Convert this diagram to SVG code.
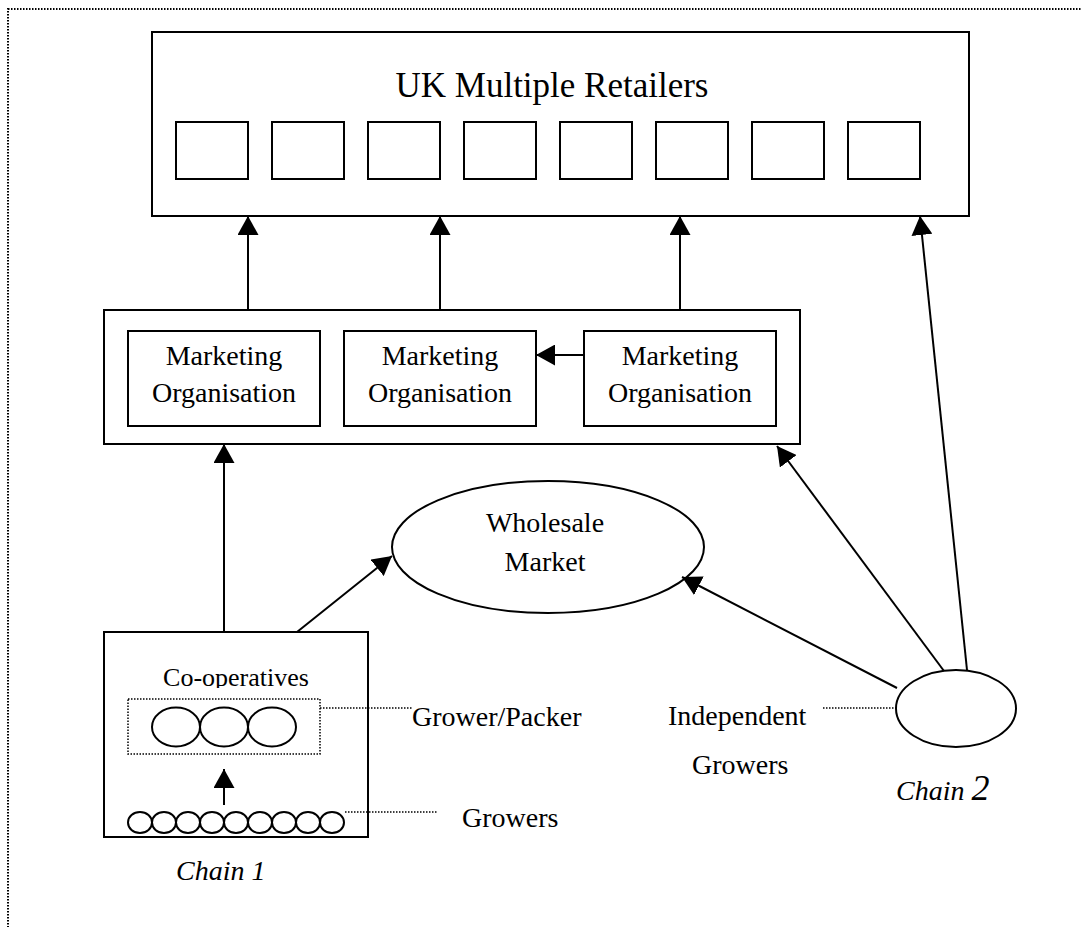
<svg xmlns="http://www.w3.org/2000/svg" width="1081" height="927" viewBox="0 0 1081 927">
  <style>
    .box { fill: #fff; stroke: #000; stroke-width: 2; }
    .shape { fill: #fff; stroke: #000; stroke-width: 2; }
    .dotted { fill: none; stroke: #000; stroke-width: 1.5; stroke-dasharray: 1.5 1.5; }
    .frame { fill: none; stroke: #000; stroke-width: 2; stroke-dasharray: 1.5 1.5; }
    .link { fill: none; stroke: #000; stroke-width: 2; marker-end: url(#arrow); }
    .label { font-family: "Liberation Serif", "Times New Roman", serif; font-size: 28px; fill: #000; }
    .mid { text-anchor: middle; }
    .ital { font-style: italic; }
  </style>
  <defs>
    <marker id="arrow" markerUnits="userSpaceOnUse" viewBox="0 0 19 21" markerWidth="19" markerHeight="21" refX="19" refY="10.5" orient="auto">
      <path d="M0,0 L19,10.5 L0,21 z" fill="#000"/>
    </marker>
    <clipPath id="coopClip">
      <rect x="104" y="632" width="264" height="56"/>
    </clipPath>
  </defs>

  <rect width="1081" height="927" fill="#fff"/>

  <!-- page frame (top and left edges visible) -->
  <g id="frame">
    <line class="frame" x1="8" y1="9" x2="1081" y2="9"/>
    <line class="frame" x1="8" y1="8" x2="8" y2="927"/>
  </g>

  <!-- retailers -->
  <g id="uk-retailers">
    <rect class="box" x="152" y="32" width="817" height="184"/>
    <text class="label mid" x="552" y="97" style="font-size:35px">UK Multiple Retailers</text>
    <rect class="box" x="176" y="122" width="72" height="57"/>
    <rect class="box" x="272" y="122" width="72" height="57"/>
    <rect class="box" x="368" y="122" width="72" height="57"/>
    <rect class="box" x="464" y="122" width="72" height="57"/>
    <rect class="box" x="560" y="122" width="72" height="57"/>
    <rect class="box" x="656" y="122" width="72" height="57"/>
    <rect class="box" x="752" y="122" width="72" height="57"/>
    <rect class="box" x="848" y="122" width="72" height="57"/>
  </g>

  <!-- marketing layer -->
  <g id="marketing">
    <rect class="box" x="104" y="310" width="696" height="134"/>
  </g>
  <g id="marketing-org-1">
    <rect class="box" x="128" y="331" width="192" height="95"/>
    <text class="label mid" x="224" y="365">Marketing</text>
    <text class="label mid" x="224" y="402">Organisation</text>
  </g>
  <g id="marketing-org-2">
    <rect class="box" x="344" y="331" width="192" height="95"/>
    <text class="label mid" x="440" y="365">Marketing</text>
    <text class="label mid" x="440" y="402">Organisation</text>
  </g>
  <g id="marketing-org-3">
    <rect class="box" x="584" y="331" width="192" height="95"/>
    <text class="label mid" x="680" y="365">Marketing</text>
    <text class="label mid" x="680" y="402">Organisation</text>
  </g>

  <!-- wholesale market -->
  <g id="wholesale-market">
    <ellipse class="shape" cx="548" cy="547" rx="156" ry="66"/>
    <text class="label mid" x="545" y="532">Wholesale</text>
    <text class="label mid" x="545" y="571">Market</text>
  </g>

  <!-- chain 1: co-operatives -->
  <g id="cooperatives">
    <rect class="box" x="104" y="632" width="264" height="205"/>
    <text class="label mid" x="236" y="686" clip-path="url(#coopClip)" style="font-size:26px">Co-operatives</text>
    <rect class="dotted" x="128" y="699" width="192" height="55"/>
    <ellipse class="shape" cx="176" cy="727" rx="24" ry="19.5"/>
    <ellipse class="shape" cx="224" cy="727" rx="24" ry="19.5"/>
    <ellipse class="shape" cx="272" cy="727" rx="24" ry="19.5"/>
    <g id="growers-row">
      <ellipse class="shape" cx="140" cy="822.5" rx="12" ry="10.5"/>
      <ellipse class="shape" cx="164" cy="822.5" rx="12" ry="10.5"/>
      <ellipse class="shape" cx="188" cy="822.5" rx="12" ry="10.5"/>
      <ellipse class="shape" cx="212" cy="822.5" rx="12" ry="10.5"/>
      <ellipse class="shape" cx="236" cy="822.5" rx="12" ry="10.5"/>
      <ellipse class="shape" cx="260" cy="822.5" rx="12" ry="10.5"/>
      <ellipse class="shape" cx="284" cy="822.5" rx="12" ry="10.5"/>
      <ellipse class="shape" cx="308" cy="822.5" rx="12" ry="10.5"/>
      <ellipse class="shape" cx="332" cy="822.5" rx="12" ry="10.5"/>
    </g>
    <text class="label ital" x="176" y="880">Chain 1</text>
  </g>

  <!-- callouts for chain 1 -->
  <g id="callouts">
    <line class="dotted" x1="320" y1="708" x2="412" y2="708"/>
    <text class="label" x="412" y="726">Grower/Packer</text>
    <line class="dotted" x1="345" y1="812" x2="438" y2="812"/>
    <text class="label" x="462" y="827">Growers</text>
  </g>

  <!-- chain 2: independent growers -->
  <g id="independent-growers">
    <ellipse class="shape" cx="956" cy="708.5" rx="60" ry="38.5"/>
    <line class="dotted" x1="823" y1="708" x2="896" y2="708"/>
    <text class="label" x="668" y="725">Independent</text>
    <text class="label" x="692" y="774">Growers</text>
    <text class="label ital" x="896" y="800">Chain <tspan style="font-size:36px">2</tspan></text>
  </g>

  <!-- connectors -->
  <g id="connectors">
    <line class="link" x1="248" y1="310" x2="248" y2="216"/>
    <line class="link" x1="440" y1="310" x2="440" y2="216"/>
    <line class="link" x1="680" y1="310" x2="680" y2="216"/>
    <line class="link" x1="584" y1="355" x2="536" y2="355"/>
    <line class="link" x1="224" y1="632" x2="224" y2="444"/>
    <line class="link" x1="297" y1="632" x2="392" y2="556"/>
    <line class="link" x1="224" y1="805" x2="224" y2="769"/>
    <line class="link" x1="897" y1="688" x2="682" y2="577"/>
    <line class="link" x1="944" y1="671" x2="777" y2="446"/>
    <line class="link" x1="967" y1="670" x2="920" y2="216"/>
  </g>
</svg>
